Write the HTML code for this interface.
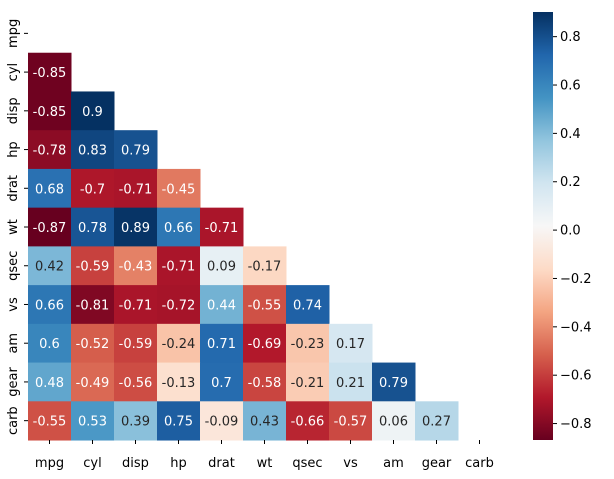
<!DOCTYPE html>
<html><head><meta charset="utf-8"><style>
body{margin:0;background:#fff;}
svg text{font-family:"DejaVu Sans","Liberation Sans",sans-serif;font-size:13px;}
</style></head><body>
<svg id="chart" width="614" height="474" xmlns="http://www.w3.org/2000/svg">
<defs><linearGradient id="cbg" x1="0" y1="1" x2="0" y2="0"></linearGradient></defs>
<g id="cells"></g>
<g id="xlabels"></g>
<g id="ylabels"></g>
<rect x="533" y="12" width="20" height="428" fill="url(#cbg)"/>
<g id="cbticks"></g>
</svg>
<script>
const variables = ["mpg","cyl","disp","hp","drat","wt","qsec","vs","am","gear","carb"];
const lowerValues = [
 [],
 [-0.85],
 [-0.85,0.9],
 [-0.78,0.83,0.79],
 [0.68,-0.7,-0.71,-0.45],
 [-0.87,0.78,0.89,0.66,-0.71],
 [0.42,-0.59,-0.43,-0.71,0.09,-0.17],
 [0.66,-0.81,-0.71,-0.72,0.44,-0.55,0.74],
 [0.6,-0.52,-0.59,-0.24,0.71,-0.69,-0.23,0.17],
 [0.48,-0.49,-0.56,-0.13,0.7,-0.58,-0.21,0.21,0.79],
 [-0.55,0.53,0.39,0.75,-0.09,0.43,-0.66,-0.57,0.06,0.27]
];
const colorbarTicks = [-0.8,-0.6,-0.4,-0.2,0.0,0.2,0.4,0.6,0.8];
const vmin = -0.868, vmax = 0.902;

const NS="http://www.w3.org/2000/svg";
const x0=28, y0=14, cw=43, ch=38.73;
const cbTop=12, cbBot=440;
const stops=["#67001f","#b2182b","#d6604d","#f4a582","#fddbc7","#f7f7f7","#d1e5f0","#92c5de","#4393c3","#2166ac","#053061"];
function hex(h){return [1,3,5].map(i=>parseInt(h.substr(i,2),16));}
function cmap(v){
  let t=(v-vmin)/(vmax-vmin); t=Math.max(0,Math.min(1,t));
  const p=t*(stops.length-1), i=Math.min(Math.floor(p),stops.length-2), f=p-i;
  const a=hex(stops[i]), b=hex(stops[i+1]);
  return a.map((c,k)=>Math.round(c+(b[k]-c)*f));
}
function lum(c){const l=c.map(x=>{x/=255;return x<=0.03928?x/12.92:Math.pow((x+0.055)/1.055,2.4);});return 0.2126*l[0]+0.7152*l[1]+0.0722*l[2];}
function xs(j){return x0+j*cw;}
function ys(i){return y0+i*ch;}
function cbY(v){return cbBot-(v-vmin)/(vmax-vmin)*(cbBot-cbTop);}
function mk(tag,attrs,parent){const e=document.createElementNS(NS,tag);for(const k in attrs)e.setAttribute(k,attrs[k]);parent.appendChild(e);return e;}

const cells=document.getElementById('cells');
lowerValues.forEach((row,i)=>{
  row.forEach((v,j)=>{
    const c=cmap(v);
    const r=mk('rect',{x:xs(j),y:ys(i),width:cw+0.5,height:ch+0.5,fill:`rgb(${c})`},cells);
    
    
    const t=mk('text',{x:xs(j)+cw/2,y:ys(i)+ch/2+5,'text-anchor':'middle',fill:lum(c)>0.408?'#262626':'#ffffff'},cells);
    t.textContent=String(v);
    
    
  });
});
const xl=document.getElementById('xlabels'), yl=document.getElementById('ylabels');
variables.forEach((n,k)=>{
  mk('line',{x1:xs(k)+cw/2,x2:xs(k)+cw/2,y1:440,y2:444,stroke:'#000'},xl);
  const t=mk('text',{x:xs(k)+cw/2,y:467,'text-anchor':'middle',fill:'#000'},xl);
  t.textContent=n;
  
  
  const yc=ys(k)+ch/2;
  mk('line',{x1:24,x2:28,y1:yc,y2:yc,stroke:'#000'},yl);
  const u=mk('text',{x:17,y:yc,'text-anchor':'middle',transform:`rotate(-90 17 ${yc})`,fill:'#000'},yl);
  u.textContent=n;
  
  
});
const g=document.getElementById('cbg');
for(let k=0;k<=20;k++){const v=vmin+(vmax-vmin)*k/20;mk('stop',{offset:(k/20),'stop-color':`rgb(${cmap(v)})`},g);}
const cbt=document.getElementById('cbticks');
colorbarTicks.forEach(v=>{
  const y=cbY(v);
  mk('line',{x1:553,x2:557,y1:y,y2:y,stroke:'#000'},cbt);
  const t=mk('text',{x:560,y:y+4.5,fill:'#000'},cbt);
  t.textContent=(v<0?'\u2212':'')+Math.abs(v).toFixed(1);
  
  
});
</script>
</body></html>
